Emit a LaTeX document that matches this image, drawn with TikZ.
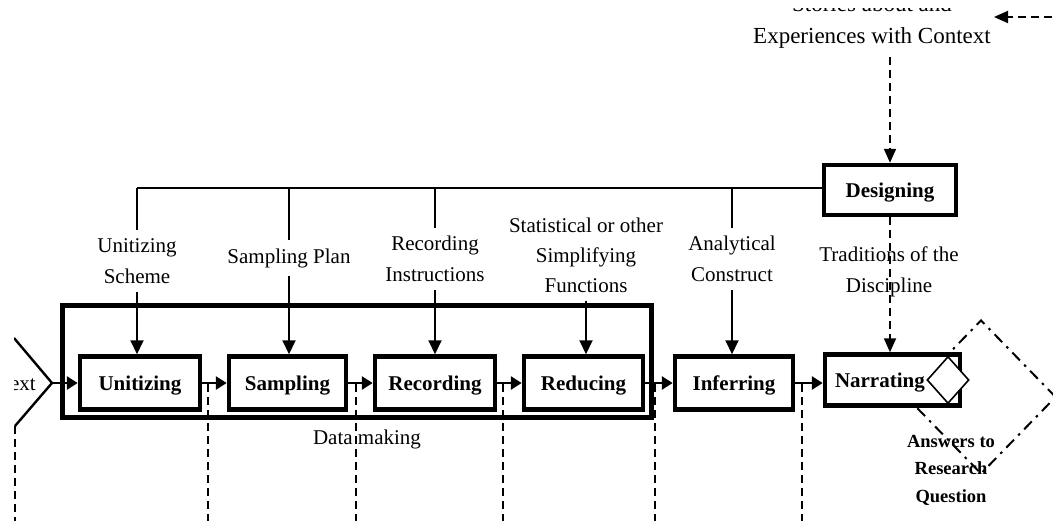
\documentclass[tikz,border=0pt]{standalone}
\usepackage{fontspec}
\setmainfont{Liberation Serif}
\usetikzlibrary{arrows.meta,shapes.geometric}
\tikzset{
  procbox/.style={draw, line width=4.5pt, fill=white, minimum width=120pt, minimum height=53pt,
    inner sep=0pt, text height=15pt, text depth=0pt, font=\fontsize{21}{25}\selectfont\bfseries},
  lbl/.style={align=center, font=\fontsize{21}{31}\selectfont, inner sep=8pt},
  toptext/.style={font=\fontsize{23}{31}\selectfont, inner sep=9pt},
  thinline/.style={line width=2pt},
  flow/.style={line width=2.8pt, -{Triangle[length=11pt,width=13pt]}},
  feed/.style={line width=2pt, -{Triangle[length=14pt,width=13pt]}},
  dashln/.style={line width=2pt, dash pattern=on 8pt off 5pt},
  dashfeed/.style={dashln, -{Triangle[length=14pt,width=12pt]}},
  dashdot/.style={line width=2pt, dash pattern=on 11pt off 6pt on 2.5pt off 6pt},
}
\begin{document}
\begin{tikzpicture}[x=1pt,y=-1pt]
\useasboundingbox (0,0) rectangle (1053,520);
\clip (14,8) rectangle (1053,520);

% data making frame
\node[draw, line width=4.5pt, minimum width=589pt, minimum height=112pt, inner sep=0pt] (dmframe) at (357,361.5) {};
\node[lbl] (dmtext) at (367,439) {Data making};

% answers
\node[font=\fontsize{18.5}{27.5}\selectfont\bfseries, align=center, inner sep=0pt] (ans) at (951,470) {Answers to\\Research\\Question};
\node[draw, diamond, dashdot, minimum width=150pt, minimum height=154pt, inner sep=0pt] (ansD) at (981,397) {};

% process boxes
\node[procbox] (unit) at (140,383) {Unitizing};
\node[procbox, minimum width=117pt] (samp) at (287.5,383) {Sampling};
\node[procbox] (rec) at (435,383) {Recording};
\node[procbox, minimum width=119pt] (red) at (583.5,383) {Reducing};
\node[procbox, minimum width=118pt] (inf) at (734,383) {Inferring};
\node[procbox, text width=115pt, inner xsep=10pt, align=left, minimum height=51pt] (narr) at (892.5,380) {Narrating};
\node[draw, diamond, fill=white, line width=1.6pt, minimum width=42pt, minimum height=47pt, inner sep=0pt] (ansS) at (948,380) {};
\node[procbox, minimum width=132pt, minimum height=50pt] (design) at (890,190) {Designing};

% text source chevron
\node[font=\fontsize{21}{25}\selectfont, anchor=east, inner sep=0pt] (txt) at (36,384) {Text};
\coordinate (chevTop) at (14,338);
\coordinate (chevTip) at (52,383);
\coordinate (chevBot) at (15,426);
\draw[line width=2.4pt] (chevTop) -- (chevTip) -- (chevBot);

% context
\node[toptext, anchor=base] (ctxA) at (872,11) {Stories about and};
\node[toptext, anchor=base] (ctx) at (872,43) {Experiences with Context};
\coordinate (ctxSrc) at (1065,17);
\coordinate (ctxIn) at (994,17);
\draw[dashfeed] (ctxSrc) -- (ctxIn);
\draw[dashfeed] (design.north |- ctx.south) -- (design.north);

% labels
\node[lbl] (lu) at (137,261) {Unitizing\\Scheme};
\node[lbl] (ls) at (289,258) {Sampling Plan};
\node[lbl] (lr) at (435,259) {Recording\\Instructions};
\node[lbl, font=\fontsize{21}{30}\selectfont] (lred) at (586,255) {Statistical or other\\Simplifying\\Functions};
\node[lbl] (la) at (732,259) {Analytical\\Construct};
\node[lbl] (lt) at (889,271.5) {Traditions of the\\Discipline};

% design bar and feeds
\coordinate (barL) at (137,187.5);
\draw[thinline] (barL) -- (barL -| design.west);
\draw[thinline] (lu.north |- barL) -- (lu.north);
\draw[feed] (lu.south) -- (lu.south |- unit.north);
\draw[thinline] (ls.north |- barL) -- (ls.north);
\draw[feed] (ls.south) -- (ls.south |- samp.north);
\draw[thinline] (lr.north |- barL) -- (lr.north);
\draw[feed] (lr.south) -- (lr.south |- rec.north);
\draw[feed] (lred.south) -- (lred.south |- red.north);
\draw[thinline] (la.north |- barL) -- (la.north);
\draw[feed] (la.south) -- (la.south |- inf.north);
\draw[dashfeed] (design.south) -- (design.south |- narr.north);

% flow
\draw[flow] (chevTip) -- (unit.west);
\draw[flow] (unit.east) -- (samp.west);
\draw[flow] (samp.east) -- (rec.west);
\draw[flow] (rec.east) -- (red.west);
\draw[flow] (red.east) -- (inf.west);
\draw[flow] (inf.east) -- (inf.east -| narr.west);

% dashed verticals below
\coordinate (d1) at (208,384);
\coordinate (d2) at (356,384);
\coordinate (d3) at (503,384);
\coordinate (d4) at (655,384);
\coordinate (d5) at (802,384);
\coordinate (bottom) at (0,522);
\draw[dashln] (chevBot) -- (chevBot |- bottom);
\draw[dashln] (d1) -- (d1 |- bottom);
\draw[dashln] (d2) -- (d2 |- bottom);
\draw[dashln] (d3) -- (d3 |- bottom);
\draw[dashln] (d4) -- (d4 |- bottom);
\draw[dashln] (d5) -- (d5 |- bottom);
\end{tikzpicture}
\end{document}
